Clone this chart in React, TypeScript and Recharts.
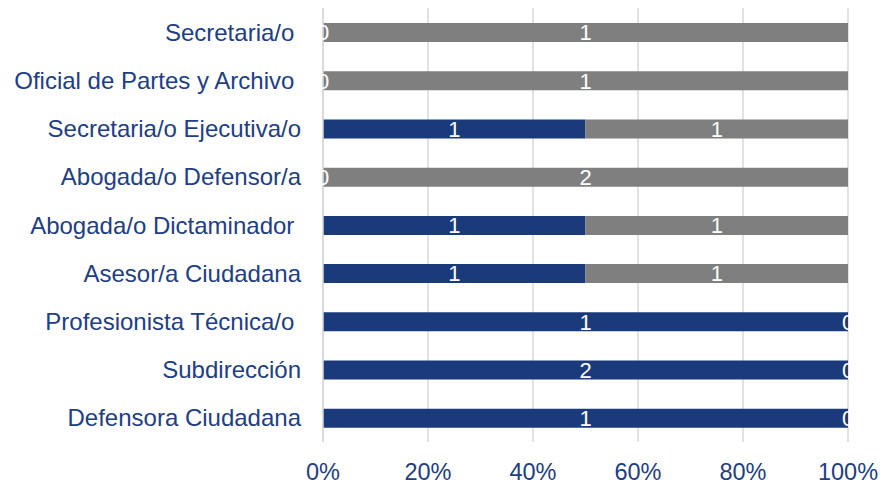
import { BarChart, Bar, XAxis, YAxis, CartesianGrid, LabelList } from 'recharts'

// top to bottom, as drawn
const categories = [
  'Secretaria/o ',
  'Oficial de Partes y Archivo ',
  'Secretaria/o Ejecutiva/o',
  'Abogada/o Defensor/a',
  'Abogada/o Dictaminador ',
  'Asesor/a Ciudadana',
  'Profesionista Técnica/o ',
  'Subdirección',
  'Defensora Ciudadana',
]
const blueValues = [0, 0, 1, 0, 1, 1, 1, 2, 1]
const grayValues = [1, 1, 1, 2, 1, 1, 0, 0, 0]
const xTicks = [0, 0.2, 0.4, 0.6, 0.8, 1]

const BLUE = '#1B3A7C'
const GRAY = '#7F7F7F'
const TEXT = '#203E84'
const GRID = '#D9D9D9'
const FONT = '"Liberation Sans", Arial, sans-serif'

const data = categories.map((name, i) => ({
  name,
  blue: blueValues[i],
  gray: grayValues[i],
}))

function CategoryTick(props: any) {
  const { x, y, payload } = props
  return (
    <text
      x={x}
      y={y}
      dy="0.355em"
      textAnchor="end"
      fill={TEXT}
      fontSize={24}
      fontFamily={FONT}
      style={{ whiteSpace: 'pre' }}
    >
      {payload.value}
    </text>
  )
}

function valueText(cx: number, cy: number, value: any, key: string) {
  return (
    <text
      key={key}
      x={cx}
      y={cy}
      dy="0.355em"
      textAnchor="middle"
      fill="#fff"
      fontSize={22}
      fontFamily={FONT}
    >
      {value}
    </text>
  )
}

// recharts drops empty segments, so the "0" of an empty neighbour is drawn
// at the shared edge by the segment that does exist (blue: right end, gray: left end)
function makeLabel(own: 'blue' | 'gray') {
  const shown = data.filter((d) => d[own] !== 0)
  return (props: any) => {
    const { x, y, width, height, value, index } = props
    if (x == null || y == null) return null
    const X = Number(x)
    const W = Number(width || 0)
    const cy = Number(y) + Number(height || 0) / 2
    const row = props.payload && props.payload.name ? props.payload : shown[index]
    const out = []
    if (value !== 0) out.push(valueText(X + W / 2, cy, value, 'v'))
    if (row && own === 'blue' && row.gray === 0) out.push(valueText(X + W, cy, 0, 'z'))
    if (row && own === 'gray' && row.blue === 0) out.push(valueText(X, cy, 0, 'z'))
    return <g>{out}</g>
  }
}

export default function App() {
  return (
    <div style={{ position: 'absolute', left: 0, top: 0, background: '#fff' }}>
      <BarChart
        width={884}
        height={486}
        data={data}
        layout="vertical"
        stackOffset="expand"
        margin={{ top: 8, right: 36, bottom: 0, left: 0 }}
        barSize={19}
      >
        <CartesianGrid horizontal={false} stroke={GRID} strokeWidth={1.5} />
        <XAxis
          type="number"
          domain={[0, 1]}
          ticks={xTicks}
          height={44}
          axisLine={false}
          tickLine={false}
          tickSize={0}
          tickMargin={21}
          tickFormatter={(v: number) => `${Math.round(v * 100)}%`}
          tick={{ fill: TEXT, fontSize: 23.5, fontFamily: FONT }}
        />
        <YAxis
          type="category"
          dataKey="name"
          width={323}
          axisLine={{ stroke: GRID, strokeWidth: 1.5 }}
          tickLine={false}
          tickSize={0}
          tickMargin={22}
          interval={0}
          tick={<CategoryTick />}
        />
        <Bar dataKey="blue" stackId="a" fill={BLUE} isAnimationActive={false}>
          <LabelList dataKey="blue" content={makeLabel('blue')} />
        </Bar>
        <Bar dataKey="gray" stackId="a" fill={GRAY} isAnimationActive={false}>
          <LabelList dataKey="gray" content={makeLabel('gray')} />
        </Bar>
      </BarChart>
    </div>
  )
}
